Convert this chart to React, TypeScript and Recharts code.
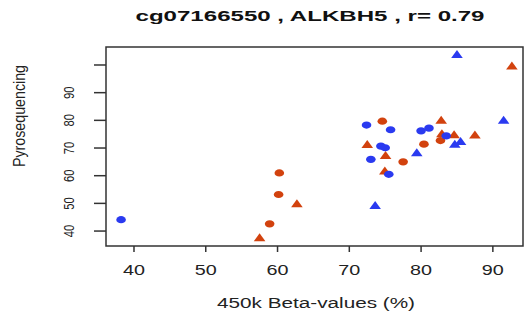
import { ScatterChart, Scatter, XAxis, YAxis, ReferenceArea } from 'recharts';

const xTicks = [40, 50, 60, 70, 80, 90];
const yTicks = [40, 50, 60, 70, 80, 90, 100];

// [450k beta, pyrosequencing]
const blueCircles = [
  [72.4, 78.3], [75.75, 76.6], [80.0, 76.2], [81.1, 77.2], [74.4, 70.7],
  [75.0, 70.1], [73.0, 65.9], [75.5, 60.5], [83.5, 74.4], [38.2, 44.1],
];
const blueTriangles = [
  [85.0, 103.9], [91.5, 80.1], [79.4, 68.4], [84.7, 71.5], [85.5, 72.5], [73.6, 49.3],
];
const orangeCircles = [
  [74.6, 79.7], [80.4, 71.4], [77.5, 65.0], [82.7, 72.7], [60.25, 61.0],
  [60.15, 53.2], [58.9, 42.6],
];
const orangeTriangles = [
  [92.65, 99.7], [82.8, 80.1], [82.9, 75.3], [84.6, 74.9], [87.5, 74.8],
  [72.5, 71.4], [75.05, 67.4], [74.95, 61.8], [62.7, 50.0], [57.5, 37.7],
];

const BLUE = '#2a3af0';
const ORANGE = '#d2420e';
const FONT = '"Liberation Sans", Arial, sans-serif';

const toPts = (arr: number[][]) => arr.map(([x, y]) => ({ x, y }));

const Dot = (color: string) => (props: any) => (
  <ellipse cx={props.cx} cy={props.cy} rx={4.8} ry={3.6} fill={color} />
);

const Tri = (color: string) => (props: any) => {
  const { cx, cy } = props;
  return <polygon points={`${cx - 5.8},${cy + 3.8} ${cx + 5.8},${cy + 3.8} ${cx},${cy - 4.2}`} fill={color} />;
};

const XTick = (props: any) => {
  const { x, y, payload } = props;
  return (
    <text x={x} y={y} dy={21} textAnchor="middle" fontSize={14} fontFamily={FONT} fill="#222"
      textLength={22} lengthAdjust="spacingAndGlyphs">
      {payload.value}
    </text>
  );
};

const YTick = (props: any) => {
  const { x, y, payload } = props;
  if (payload.value === 100) return <g />;
  return (
    <text x={x} y={y} transform={`rotate(-90, ${x}, ${y})`} textAnchor="middle" fontSize={14}
      fontFamily={FONT} fill="#222" textLength={12.5} lengthAdjust="spacingAndGlyphs">
      {payload.value}
    </text>
  );
};

export default function App() {
  return (
    <div style={{ position: 'absolute', left: 0, top: 0, width: 525, height: 318, background: '#fff' }}>
      <ScatterChart width={525} height={318} margin={{ top: 47, right: 2, bottom: 0, left: 0 }}>
        <XAxis type="number" dataKey="x" domain={[36.1, 94.2]} ticks={xTicks} allowDataOverflow
          axisLine={false} tickSize={6} tickMargin={2} height={72}
          tickLine={{ stroke: '#333', strokeWidth: 1.5 }} tick={<XTick />} />
        <YAxis type="number" dataKey="y" domain={[34.6, 106.5]} ticks={yTicks} allowDataOverflow
          axisLine={false} tickSize={12} tickMargin={20} width={106}
          tickLine={{ stroke: '#333', strokeWidth: 1.5 }} tick={<YTick />} />
        <ReferenceArea x1={36.1} x2={94.2} y1={34.6} y2={106.5} fill="none" fillOpacity={0}
          stroke="#333" strokeWidth={1.5} />
        <Scatter data={toPts(orangeCircles)} shape={Dot(ORANGE)} isAnimationActive={false} />
        <Scatter data={toPts(orangeTriangles)} shape={Tri(ORANGE)} isAnimationActive={false} />
        <Scatter data={toPts(blueCircles)} shape={Dot(BLUE)} isAnimationActive={false} />
        <Scatter data={toPts(blueTriangles)} shape={Tri(BLUE)} isAnimationActive={false} />
      </ScatterChart>
      <svg width={525} height={318} style={{ position: 'absolute', left: 0, top: 0, pointerEvents: 'none' }}>
        <text x={310} y={21} textAnchor="middle" fontSize={14} fontWeight="bold" fontFamily={FONT}
          fill="#111" textLength={349} lengthAdjust="spacingAndGlyphs">
          cg07166550 , ALKBH5 , r= 0.79
        </text>
        <text x={316} y={307.5} textAnchor="middle" fontSize={14} fontFamily={FONT} fill="#222"
          textLength={198} lengthAdjust="spacingAndGlyphs">
          450k Beta-values (%)
        </text>
        <text x={25} y={116} transform="rotate(-90, 25, 116)" textAnchor="middle" fontSize={16}
          fontFamily={FONT} fill="#222" textLength={102} lengthAdjust="spacingAndGlyphs">
          Pyrosequencing
        </text>
      </svg>
    </div>
  );
}
